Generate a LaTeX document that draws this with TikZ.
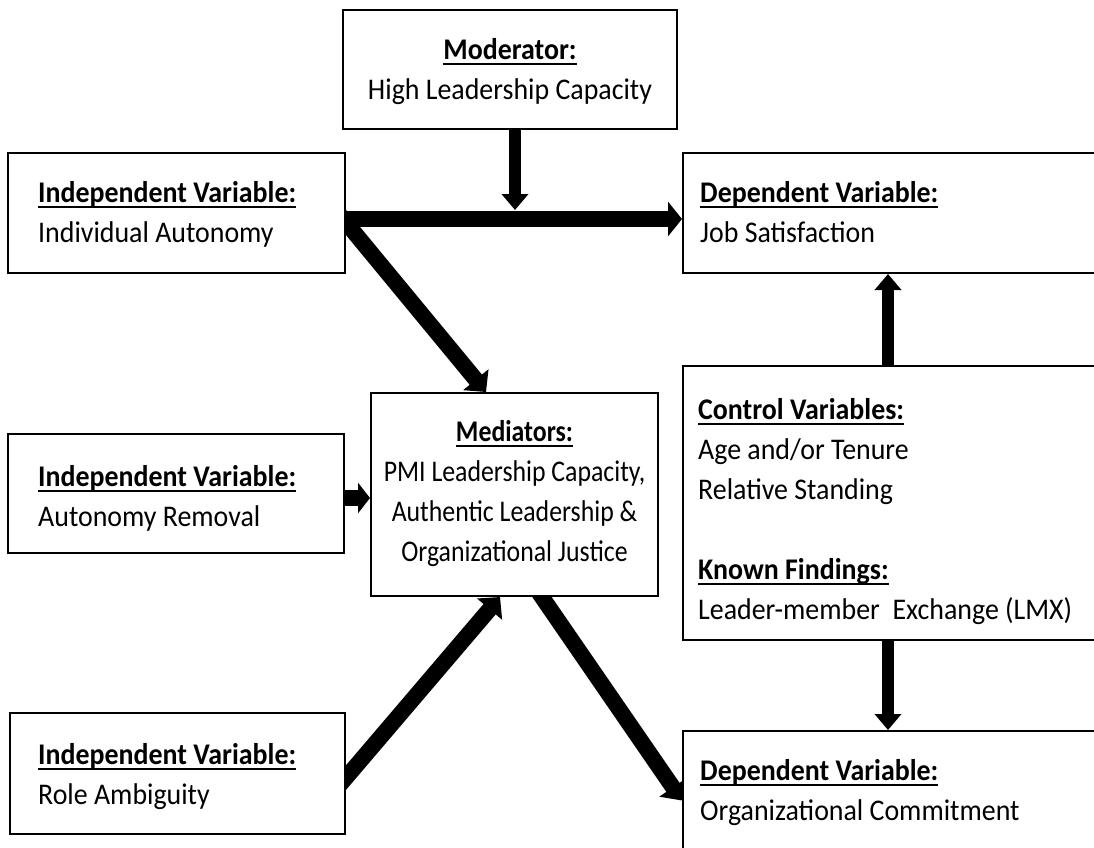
\documentclass[tikz,border=0pt]{standalone}
\usepackage{fontspec}
\setmainfont{Carlito}[FakeStretch=0.93]
\newfontfamily\medfont{Carlito}[FakeStretch=0.86]
\usetikzlibrary{arrows.meta,calc}
\pgfdeclarelayer{bg}
\pgfsetlayers{bg,main}
% bold heading with a low underline that runs through the descenders
\newsavebox\ttlbox
\newcommand\ttl[1]{\sbox\ttlbox{\bfseries #1}\rlap{\rule[-5.5pt]{\wd\ttlbox}{2pt}}\usebox\ttlbox}
\begin{document}
\begin{tikzpicture}[x=1pt,y=-1pt,
  box/.style={draw=black,line width=2pt,fill=white,rectangle,inner sep=0pt},
  lbl/.style={inner sep=0pt,text=black,font=\fontsize{30pt}{40pt}\selectfont},
  bigarrow/.style={line width=16pt,-{Triangle[length=16pt,width=32pt]}},
  smallarrow/.style={line width=12pt,-{Triangle[length=16pt,width=26pt]}}]
\useasboundingbox (0,0) rectangle (1094,847);
\clip (0,0) rectangle (1094,847);

% frames
\node[box,minimum width=334pt,minimum height=119pt] (mod)  at (510,69.5)   {};
\node[box,minimum width=337pt,minimum height=120pt] (iv1)  at (176.5,213)  {};
\node[box,minimum width=417pt,minimum height=120pt] (dv1)  at (891.5,213)  {};
\node[box,minimum width=287pt,minimum height=203pt] (med)  at (514.5,494.5){};
\node[box,minimum width=336pt,minimum height=119pt] (iv2)  at (176,493.5)  {};
\node[box,minimum width=417pt,minimum height=274pt] (ctrl) at (891.5,503)  {};
\node[box,minimum width=335pt,minimum height=121pt] (iv3)  at (177.5,773.5){};
\node[box,minimum width=417pt,minimum height=139pt] (dv2)  at (891.5,800.5){};

% texts
\node[lbl,align=center] (modtxt) at (510,71)
  {\strut\ttl{Moderator:}\\\strut High Leadership Capacity};
\node[lbl,align=left,anchor=west] (iv1txt) at (38,214)
  {\strut\ttl{Independent Variable:}\\\strut Individual Autonomy};
\node[lbl,align=left,anchor=west] (dv1txt) at (700,214)
  {\strut\ttl{Dependent Variable:}\\\strut Job Satisfaction};
\node[lbl,align=center,font=\fontsize{30pt}{40pt}\medfont] (medtxt) at (514.5,493)
  {\strut\ttl{Mediators:}\\\strut PMI Leadership Capacity,\\\strut Authentic Leadership \&\\\strut Organizational Justice};
\node[lbl,align=left,anchor=west] (iv2txt) at (38,498)
  {\strut\ttl{Independent Variable:}\\\strut Autonomy Removal};
\node[lbl,align=left,anchor=west] (ctrltxt) at (698,511)
  {\strut\ttl{Control Variables:}\\\strut Age and/or Tenure\\\strut Relative Standing\\\strut\\\strut\ttl{Known Findings:}\\\strut Leader-member\ \ Exchange (LMX)};
\node[lbl,align=left,anchor=west] (iv3txt) at (38,776)
  {\strut\ttl{Independent Variable:}\\\strut Role Ambiguity};
\node[lbl,align=left,anchor=west] (dv2txt) at (700,792)
  {\strut\ttl{Dependent Variable:}\\\strut Organizational Commitment};

% connectors, kept beneath the frames
\begin{pgfonlayer}{bg}
  \coordinate (modtip) at (515,210);
  \draw[smallarrow] (modtip |- mod.south) -- (modtip);
  \coordinate (h1) at ($(iv1.east)+(0,6)$);
  \draw[bigarrow,-{Triangle[length=14pt,width=34pt]}] (h1) -- (h1 -| dv1.west);
  \draw[bigarrow] ($(iv1.east)+(-10,-2.6)$) -- ($(med.north)+(-28.5,0)$);
  \coordinate (h2) at ($(iv2.east)+(0,4.5)$);
  \draw[bigarrow,-{Triangle[length=12pt,width=30pt]}] (h2) -- (h2 -| med.west);
  \draw[bigarrow] ($(iv3.east)+(-11.8,17.9)$) -- ($(med.south)+(-14.5,0)$);
  \draw[bigarrow] ($(med.south)+(18.5,-13)$) -- (dv2.west);
  \coordinate (c1) at ($(ctrl.north)+(-3.5,0)$);
  \draw[smallarrow] (c1) -- (c1 |- dv1.south);
  \coordinate (c2) at ($(ctrl.south)+(-3.5,0)$);
  \draw[smallarrow] (c2) -- (c2 |- dv2.north);
\end{pgfonlayer}
\end{tikzpicture}
\end{document}
